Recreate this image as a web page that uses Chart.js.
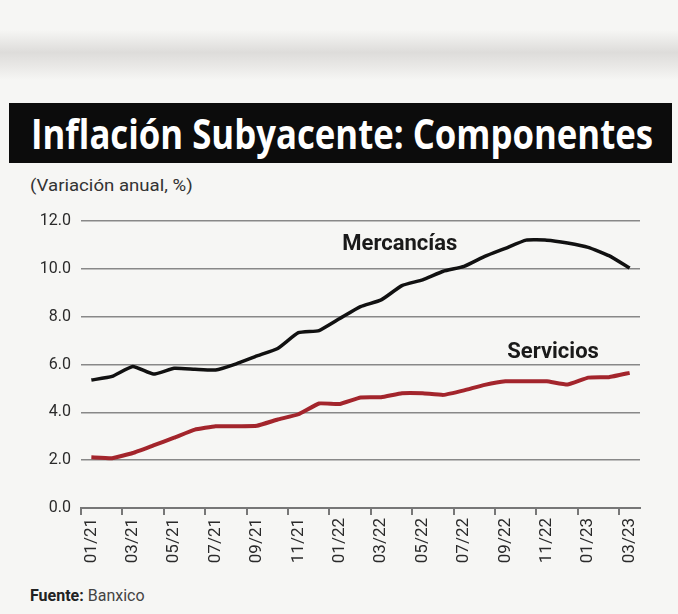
<!DOCTYPE html>
<html lang="es">
<head>
<meta charset="utf-8">
<script src="https://cdn.jsdelivr.net/npm/chart.js@4.4.1/dist/chart.umd.min.js"></script>
<style>
  html, body { margin: 0; padding: 0; }
  body {
    width: 678px; height: 614px; position: relative; overflow: hidden;
    background: #f6f6f4; font-family: Roboto, "Open Sans", sans-serif; color: #2a2a2a;
  }
  .franja {
    position: absolute; left: 0; top: 30px; width: 678px; height: 50px;
    background: linear-gradient(to bottom, rgba(205,203,201,0), rgba(205,203,201,0.6) 45%, rgba(215,213,211,0.45) 70%, rgba(230,229,228,0));
  }
  .titulo {
    position: absolute; left: 9px; top: 103px; width: 663px; height: 60px; background: #0c0c0c;
  }
  .titulo span {
    position: absolute; left: 22px; top: 4px; color: #fff; white-space: nowrap;
    font-family: "Open Sans", sans-serif; font-weight: 700; font-size: 41px; line-height: 52px;
    transform-origin: 0 50%;
  }
  .sub {
    position: absolute; left: 30px; top: 176px; font-size: 16px; white-space: nowrap; color: #333;
    transform-origin: 0 50%;
  }
  .fuente {
    position: absolute; left: 30px; top: 586px; font-size: 16px; white-space: nowrap; color: #444;
  }
  .fuente b { color: #222; }
  #caja { position: absolute; left: 0; top: 200px; width: 678px; height: 372px; }
</style>
</head>
<body>
<div class="franja"></div>
<div class="titulo"><span id="tit">Inflación Subyacente: Componentes</span></div>
<div class="sub" id="sub">(Variación anual, %)</div>
<div id="caja"><canvas id="grafica"></canvas></div>
<div class="fuente"><b>Fuente:</b> Banxico</div>
<script>
// Datos (variación anual, %)
var meses = ['01/21','02/21','03/21','04/21','05/21','06/21','07/21','08/21','09/21','10/21','11/21','12/21',
             '01/22','02/22','03/22','04/22','05/22','06/22','07/22','08/22','09/22','10/22','11/22','12/22',
             '01/23','02/23','03/23'];
var mercancias = [5.35, 5.5, 5.92, 5.6, 5.84, 5.8, 5.77, 6.03, 6.36, 6.67, 7.33, 7.42,
                  7.92, 8.42, 8.7, 9.3, 9.54, 9.9, 10.1, 10.52, 10.86, 11.2, 11.2, 11.08,
                  10.9, 10.55, 10.03];
var servicios = [2.12, 2.08, 2.3, 2.62, 2.94, 3.28, 3.42, 3.42, 3.44, 3.7, 3.92, 4.37,
                 4.35, 4.62, 4.63, 4.8, 4.8, 4.73, 4.92, 5.15, 5.3, 5.3, 5.3, 5.16,
                 5.45, 5.47, 5.65];
var yMin = 0, yMax = 12, yPaso = 2;

// etiquetas de las series, en coordenadas de datos (índice de mes, valor)
var etiquetas = [
  { texto: 'Mercancías', mes: 14.9, valor: 11.0 },
  { texto: 'Servicios', mes: 22.3, valor: 6.5 }
];

// ajustar ancho de textos condensados
function ajustar(id, ancho) {
  var el = document.getElementById(id);
  el.style.transform = 'scaleX(' + (ancho / el.scrollWidth) + ')';
}
ajustar('tit', 622);
ajustar('sub', 163);

var pluginEtiquetas = {
  id: 'etiquetas',
  afterDatasetsDraw: function(chart) {
    var ctx = chart.ctx;
    var x = chart.scales.x, y = chart.scales.y;
    ctx.save();
    ctx.font = 'bold 22px Roboto, sans-serif';
    ctx.fillStyle = '#1a1a1a';
    ctx.textAlign = 'center';
    ctx.textBaseline = 'middle';
    etiquetas.forEach(function(e) {
      ctx.fillText(e.texto, x.getPixelForValue(e.mes), y.getPixelForValue(e.valor));
    });
    ctx.restore();
  }
};

var ctx = document.getElementById('grafica').getContext('2d');
var chart = new Chart(ctx, {
  type: 'line',
  data: {
    labels: meses,
    datasets: [
      { label: 'Mercancías', data: mercancias, borderColor: '#111111', borderWidth: 3.5,
        pointRadius: 0, tension: 0.15 },
      { label: 'Servicios', data: servicios, borderColor: '#a3252c', borderWidth: 4,
        pointRadius: 0, tension: 0.1 }
    ]
  },
  options: {
    responsive: true,
    maintainAspectRatio: false,
    animation: false,
    layout: { padding: { left: 0, right: 38, top: 21, bottom: 0 } },
    plugins: { legend: { display: false }, tooltip: { enabled: false } },
    scales: {
      x: {
        offset: true,
        grid: {
          offset: true,
          drawOnChartArea: false,
          drawTicks: true,
          tickLength: 7,
          lineWidth: 2,
          color: function(c) { return (c.index % 2 === 0 && c.index < meses.length) ? '#777' : 'rgba(0,0,0,0)'; }
        },
        border: { display: true, color: '#777', width: 2 },
        ticks: {
          autoSkip: false,
          maxRotation: 90,
          minRotation: 90,
          padding: 3,
          color: '#2a2a2a',
          font: { family: 'Roboto', size: 17 },
          callback: function(v, i) { return i % 2 === 0 ? meses[i] : ''; }
        },
        afterFit: function(s) { s.height = 64; }
      },
      y: {
        min: yMin,
        max: yMax,
        ticks: {
          stepSize: yPaso,
          padding: 10,
          color: '#2a2a2a',
          font: { family: 'Roboto', size: 16 },
          callback: function(v) { return v.toFixed(1); }
        },
        grid: { color: '#888', lineWidth: 1.5, drawTicks: false },
        border: { display: false },
        afterFit: function(s) { s.width = 81; }
      }
    }
  },
  plugins: [pluginEtiquetas]
});
</script>
</body>
</html>
